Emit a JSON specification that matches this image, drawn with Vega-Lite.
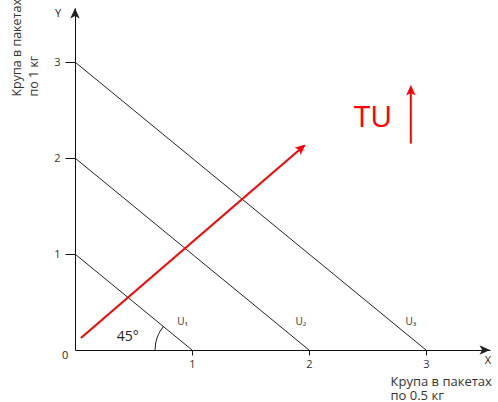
{
  "$schema": "https://vega.github.io/schema/vega-lite/v6.json",
  "width": 415,
  "height": 342,
  "autosize": "none",
  "padding": {"left": 75, "top": 8, "right": 8, "bottom": 52},
  "background": "white",
  "config": {
    "view": {"stroke": null},
    "font": "Open Sans",
    "axis": {"grid": false, "domainColor": "#111", "tickColor": "#111", "labelColor": "#333", "labelFont": "Open Sans", "labelFontSize": 11, "titleFont": "Open Sans", "titleFontWeight": "normal", "titleColor": "#333", "format": "d"}
  },
  "datasets": {
    "segs": [
      {"x": 0, "y": 1, "x2": 1, "y2": 0, "c": "k"},
      {"x": 0, "y": 2, "x2": 2, "y2": 0, "c": "k"},
      {"x": 0, "y": 3, "x2": 3, "y2": 0, "c": "k"},
      {"x": 0.05, "y": 0.125, "x2": 1.96, "y2": 2.13, "c": "r"},
      {"x": 2.87, "y": 2.15, "x2": 2.87, "y2": 2.72, "c": "r"}
    ],
    "heads": [
      {"x": 0, "y": 3.5625, "angle": -90, "c": "k"},
      {"x": 3.547, "y": 0, "angle": 0, "c": "k"},
      {"x": 1.97, "y": 2.14, "angle": -40.7, "c": "r"},
      {"x": 2.87, "y": 2.76, "angle": -90, "c": "r"}
    ],
    "labels": [
      {"x": 0.92, "y": 0.29, "t": "U₁"},
      {"x": 1.93, "y": 0.29, "t": "U₂"},
      {"x": 2.87, "y": 0.29, "t": "U₃"}
    ],
    "plain": [
      {"x": -0.085, "y": -0.06, "t": "0", "s": 11},
      {"x": 3.53, "y": -0.115, "t": "X", "s": 11},
      {"x": -0.145, "y": 3.5, "t": "Y", "s": 11},
      {"x": 0.45, "y": 0.135, "t": "45°", "s": 14}
    ]
  },
  "layer": [
    {
      "data": {"name": "segs"},
      "mark": {"type": "rule"},
      "encoding": {
        "x": {"field": "x", "type": "quantitative", "scale": {"domain": [0, 3.547], "nice": false, "zero": false},
          "axis": {"values": [1, 2, 3], "tickSize": 5, "labelPadding": 3, "title": ["Крупа в пакетах", "по 0.5 кг"], "titleFontSize": 13, "titleLineHeight": 14, "titleX": 315, "titleY": 35, "titleAlign": "left", "titleBaseline": "alphabetic", "titleAnchor": null}},
        "y": {"field": "y", "type": "quantitative", "scale": {"domain": [0, 3.5625], "nice": false, "zero": false},
          "axis": {"values": [1, 2, 3], "tickSize": 10, "labelPadding": 5, "title": ["Крупа в пакетах", "по 1 кг"], "titleFontSize": 12.5, "titleLineHeight": 17, "titleAngle": -90, "titleX": -65, "titleY": 88, "titleAlign": "left", "titleBaseline": "top", "titleAnchor": null}},
        "x2": {"field": "x2"},
        "y2": {"field": "y2"},
        "color": {"field": "c", "type": "nominal", "scale": {"domain": ["k", "r"], "range": ["#222222", "#ff0000"]}, "legend": null},
        "strokeWidth": {"field": "c", "type": "nominal", "scale": {"domain": ["k", "r"], "range": [1, 2]}, "legend": null}
      }
    },
    {
      "data": {"name": "heads"},
      "mark": {"type": "point", "filled": true, "opacity": 1, "shape": "M0,0 L-1,-0.45 L-0.75,0 L-1,0.45 Z", "size": 441},
      "encoding": {
        "x": {"field": "x", "type": "quantitative"},
        "y": {"field": "y", "type": "quantitative"},
        "angle": {"field": "angle", "type": "quantitative", "scale": null},
        "color": {"field": "c", "type": "nominal", "scale": {"domain": ["k", "r"], "range": ["#111111", "#ff0000"]}, "legend": null}
      }
    },
    {
      "data": {"name": "labels"},
      "mark": {"type": "text", "fontSize": 10, "color": "#333", "font": "Open Sans"},
      "encoding": {
        "x": {"field": "x", "type": "quantitative"},
        "y": {"field": "y", "type": "quantitative"},
        "text": {"field": "t"}
      }
    },
    {
      "data": {"name": "plain"},
      "mark": {"type": "text", "color": "#222", "font": "Open Sans"},
      "encoding": {
        "x": {"field": "x", "type": "quantitative"},
        "y": {"field": "y", "type": "quantitative"},
        "text": {"field": "t"},
        "size": {"field": "s", "type": "quantitative", "scale": null}
      }
    },
    {
      "data": {"values": [{"x": 2.547, "y": 2.323, "t": "TU"}]},
      "mark": {"type": "text", "color": "#ff0000", "fontSize": 30, "font": "Open Sans", "baseline": "alphabetic", "align": "center"},
      "encoding": {
        "x": {"field": "x", "type": "quantitative"},
        "y": {"field": "y", "type": "quantitative"},
        "text": {"field": "t"}
      }
    },
    {
      "data": {"values": [{"x": 1, "y": 0}]},
      "mark": {"type": "arc", "innerRadius": 36.5, "outerRadius": 37.5, "theta": 4.712, "theta2": 5.408, "color": "#222"},
      "encoding": {
        "x": {"field": "x", "type": "quantitative"},
        "y": {"field": "y", "type": "quantitative"}
      }
    }
  ]
}
